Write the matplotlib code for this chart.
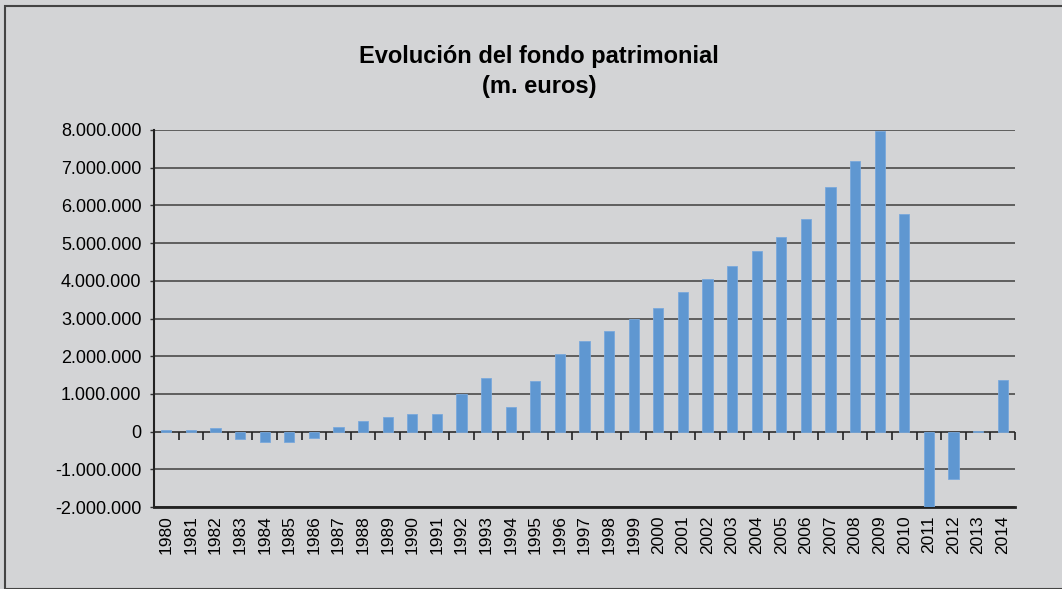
import numpy as np
import matplotlib.pyplot as plt
from matplotlib.ticker import FuncFormatter
from matplotlib.patches import Rectangle

plt.rcParams['font.family'] = ['Liberation Sans', 'DejaVu Sans']

# Datos (miles de euros)
anios = [str(a) for a in range(1980, 2015)]
fondo = [50000, 50000, 90000, -200000, -270000, -270000, -160000, 125000,
         270000, 400000, 480000, 480000, 1000000, 1430000, 660000, 1330000,
         2070000, 2390000, 2680000, 3000000, 3290000, 3710000, 4060000,
         4400000, 4800000, 5170000, 5650000, 6500000, 7170000, 7980000,
         5780000, -2000000, -1250000, 20000, 1370000]
yticks = list(range(-2000000, 8000001, 1000000))

fondo_color = '#d3d4d6'
barra_color = '#5f97d1'

fig = plt.figure(figsize=(10.62, 5.89), dpi=100, facecolor=fondo_color)
ax = fig.add_axes([154/1062, 1 - 507/589, (1015 - 154)/1062, (507 - 130)/589])
ax.set_facecolor(fondo_color)

x = np.arange(len(anios))
ax.bar(x, fondo, width=0.41, color=barra_color, edgecolor='#7aa9dc', linewidth=0.6, zorder=3)

ax.set_xlim(-0.5, len(anios) - 0.5)
ax.set_ylim(-2000000, 8000000)
ax.set_yticks(yticks)
ax.yaxis.set_major_formatter(FuncFormatter(lambda v, p: f'{int(v):,}'.replace(',', '.')))
ax.yaxis.grid(True, color='#555555', linewidth=1.3, zorder=1)

ax.set_xticks(x)
ax.set_xticklabels(anios, rotation=90)
ax.tick_params(axis='x', length=0, pad=6, labelsize=12.5)
ax.tick_params(axis='y', length=3, width=1, pad=6, labelsize=13, color='#333333')

for s in ['top', 'right']:
    ax.spines[s].set_visible(False)
ax.spines['left'].set_linewidth(1.5)
ax.spines['left'].set_color('#222222')
ax.spines['bottom'].set_linewidth(2)
ax.spines['bottom'].set_color('#222222')

# eje de categorías en cero con marcas entre años
ax.axhline(0, color='#444444', linewidth=1.2, zorder=2)
ax.plot(np.arange(0.5, len(anios), 1.0), np.zeros(len(anios)), linestyle='none',
        marker=3, markersize=6, markeredgewidth=1.2, color='#222222', zorder=4)

fig.text(539/1062, 1 - 57/589, 'Evolución del fondo patrimonial', ha='center', va='center',
         fontsize=17, fontweight='bold')
fig.text(539/1062, 1 - 87/589, '(m. euros)', ha='center', va='center',
         fontsize=17, fontweight='bold')

fig.patches.append(Rectangle((5/1062, 0), 1.2, 1 - 6/589, transform=fig.transFigure,
                             fill=False, edgecolor='#444444', linewidth=1.5))

fig.savefig('out.png', dpi=100, facecolor=fondo_color)
